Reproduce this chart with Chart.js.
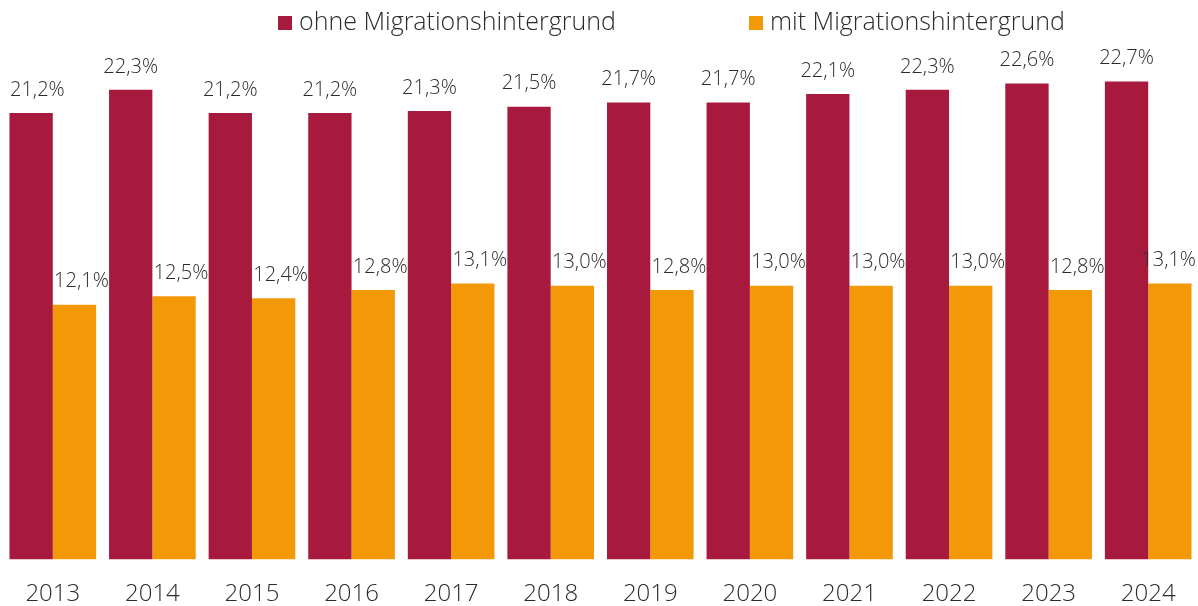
<!DOCTYPE html>
<html>
<head>
<meta charset="utf-8">
<script src="https://cdn.jsdelivr.net/npm/chart.js@4"></script>
<style>
  html, body { margin: 0; padding: 0; background: #fff; }
  #wrap { width: 1198px; height: 606px; }
</style>
</head>
<body>
<div id="wrap"><canvas id="myChart" width="1198" height="606"></canvas></div>
<script>
// data
const years = ['2013', '2014', '2015', '2016', '2017', '2018', '2019', '2020', '2021', '2022', '2023', '2024'];
const ohneMigration = [21.2, 22.3, 21.2, 21.2, 21.3, 21.5, 21.7, 21.7, 22.1, 22.3, 22.6, 22.7];
const mitMigration = [12.1, 12.5, 12.4, 12.8, 13.1, 13.0, 12.8, 13.0, 13.0, 13.0, 12.8, 13.1];
const seriesNames = ['ohne Migrationshintergrund', 'mit Migrationshintergrund'];

const FONT = '"Open Sans", "DejaVu Sans", sans-serif';
const TEXT = '#2b2b2b';

function fmt(v) {
  return v.toFixed(1).replace('.', ',') + '%';
}

// value labels above each bar
const barLabels = {
  id: 'barLabels',
  afterDatasetsDraw(chart) {
    const ctx = chart.ctx;
    ctx.save();
    ctx.font = '300 20px ' + FONT;
    ctx.fillStyle = TEXT;
    ctx.textAlign = 'center';
    ctx.textBaseline = 'middle';
    chart.data.datasets.forEach((ds, i) => {
      const meta = chart.getDatasetMeta(i);
      meta.data.forEach((bar, j) => {
        const txt = fmt(ds.data[j]);
        let x = bar.x + (i == 1 ? 7 : 0);
        const w = ctx.measureText(txt).width;
        // keep labels inside the picture
        if (x + w / 2 > chart.width - 2) x = chart.width - 2 - w / 2;
        if (x - w / 2 < 10) x = 10 + w / 2;
        ctx.fillText(txt, x, bar.y - 23);
      });
    });
    ctx.restore();
  }
};

// legend drawn by hand, the two items sit far apart
const topLegend = {
  id: 'topLegend',
  afterDraw(chart) {
    const ctx = chart.ctx;
    ctx.save();
    ctx.font = '300 25px ' + FONT;
    ctx.textBaseline = 'middle';
    const starts = [278, 749];
    chart.data.datasets.forEach((ds, i) => {
      const x = starts[i];
      ctx.fillStyle = ds.backgroundColor;
      ctx.fillRect(x, 16, 14, 14);
      ctx.fillStyle = TEXT;
      ctx.textAlign = 'left';
      ctx.fillText(ds.label, x + 21, 23);
    });
    ctx.restore();
  }
};

const ctx = document.getElementById('myChart').getContext('2d');
const myChart = new Chart(ctx, {
  type: 'bar',
  data: {
    labels: years,
    datasets: [
      {
        label: seriesNames[0],
        data: ohneMigration,
        backgroundColor: '#A7193D',
        barPercentage: 1.0,
        categoryPercentage: 0.87
      },
      {
        label: seriesNames[1],
        data: mitMigration,
        backgroundColor: '#F39908',
        barPercentage: 1.0,
        categoryPercentage: 0.87
      }
    ]
  },
  options: {
    responsive: false,
    animation: false,
    layout: { padding: { top: 33, left: 3, right: 0, bottom: 0 } },
    plugins: {
      legend: { display: false },
      tooltip: { enabled: false }
    },
    scales: {
      x: {
        grid: { display: false },
        border: { display: false },
        afterFit(scale) { scale.height = 46.5; },
        ticks: {
          color: TEXT,
          padding: 12,
          font: { family: FONT, size: 24, weight: 300 }
        }
      },
      y: {
        display: false,
        min: 0,
        max: 25
      }
    }
  },
  plugins: [barLabels, topLegend]
});
</script>
</body>
</html>
